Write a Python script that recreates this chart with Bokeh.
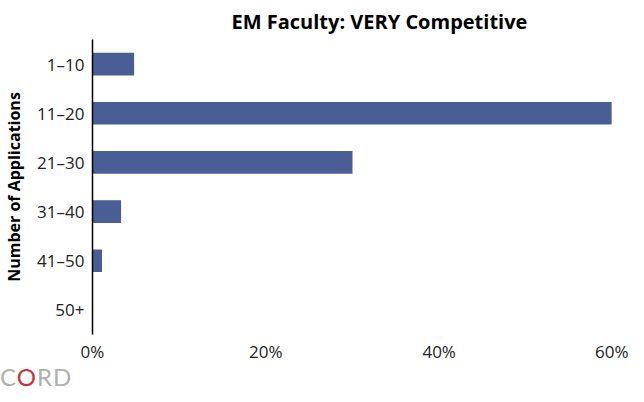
from bokeh.plotting import figure
from bokeh.models import FactorRange, Range1d, FixedTicker, PrintfTickFormatter, Div
from bokeh.layouts import column
from bokeh.embed import file_html
from bokeh.resources import INLINE

categories = ["1–10", "11–20", "21–30", "31–40", "41–50", "50+"]
percent = [4.8, 59.9, 30.0, 3.3, 1.1, 0.0]
x_ticks = [0, 20, 40, 60]

fig = figure(width=628, height=368, output_backend="svg", toolbar_location=None,
             y_range=FactorRange(*reversed(categories), range_padding=0),
             x_range=Range1d(0, 60),
             min_border_left=85, min_border_right=16, min_border_top=33, min_border_bottom=34)

fig.hbar(y=categories, right=percent, left=0, height=0.46, color="#4a5e96", line_color=None)

fig.title.text = "EM Faculty: VERY Competitive"
fig.title.align = "left"
fig.title.text_font = "Open Sans"
fig.title.text_font_size = "20px"
fig.title.text_font_style = "bold"
fig.title.text_color = "#000000"
fig.title.offset = 139

fig.outline_line_color = None
fig.grid.grid_line_color = None
fig.background_fill_color = "white"
fig.border_fill_color = "white"

ya = fig.yaxis[0]
ya.axis_label = "Number of Applications"
ya.axis_label_text_font = "Open Sans"
ya.axis_label_text_font_size = "16px"
ya.axis_label_text_font_style = "bold"
ya.axis_label_text_color = "#000000"
ya.axis_label_standoff = 9
ya.axis_line_color = "#000000"
ya.axis_line_width = 1.5
ya.major_tick_line_color = None
ya.minor_tick_line_color = None
ya.major_tick_out = 0
ya.major_tick_in = 0
ya.major_label_text_font = "Open Sans"
ya.major_label_text_font_size = "17px"
ya.major_label_text_color = "#222222"
ya.major_label_standoff = 8

xa = fig.xaxis[0]
xa.ticker = FixedTicker(ticks=x_ticks)
xa.formatter = PrintfTickFormatter(format="%d%%")
xa.axis_line_color = None
xa.major_tick_line_color = None
xa.minor_tick_line_color = None
xa.major_tick_out = 0
xa.major_tick_in = 0
xa.major_label_text_font = "Open Sans"
xa.major_label_text_font_size = "17px"
xa.major_label_text_color = "#222222"
xa.major_label_standoff = 5

logo = Div(text=('<div style="font-family:Lato;font-size:24px;line-height:18px;letter-spacing:1px;">'
                 '<span style="color:#b0b0b0">C</span>'
                 '<span style="color:#c8323c">O</span>'
                 '<span style="color:#b0b0b0">RD</span></div>'),
           width=120, height=18, margin=(0, 0, 0, 0))

p = column(fig, logo, spacing=0)

open("out.html", "w").write(file_html(p, INLINE))
